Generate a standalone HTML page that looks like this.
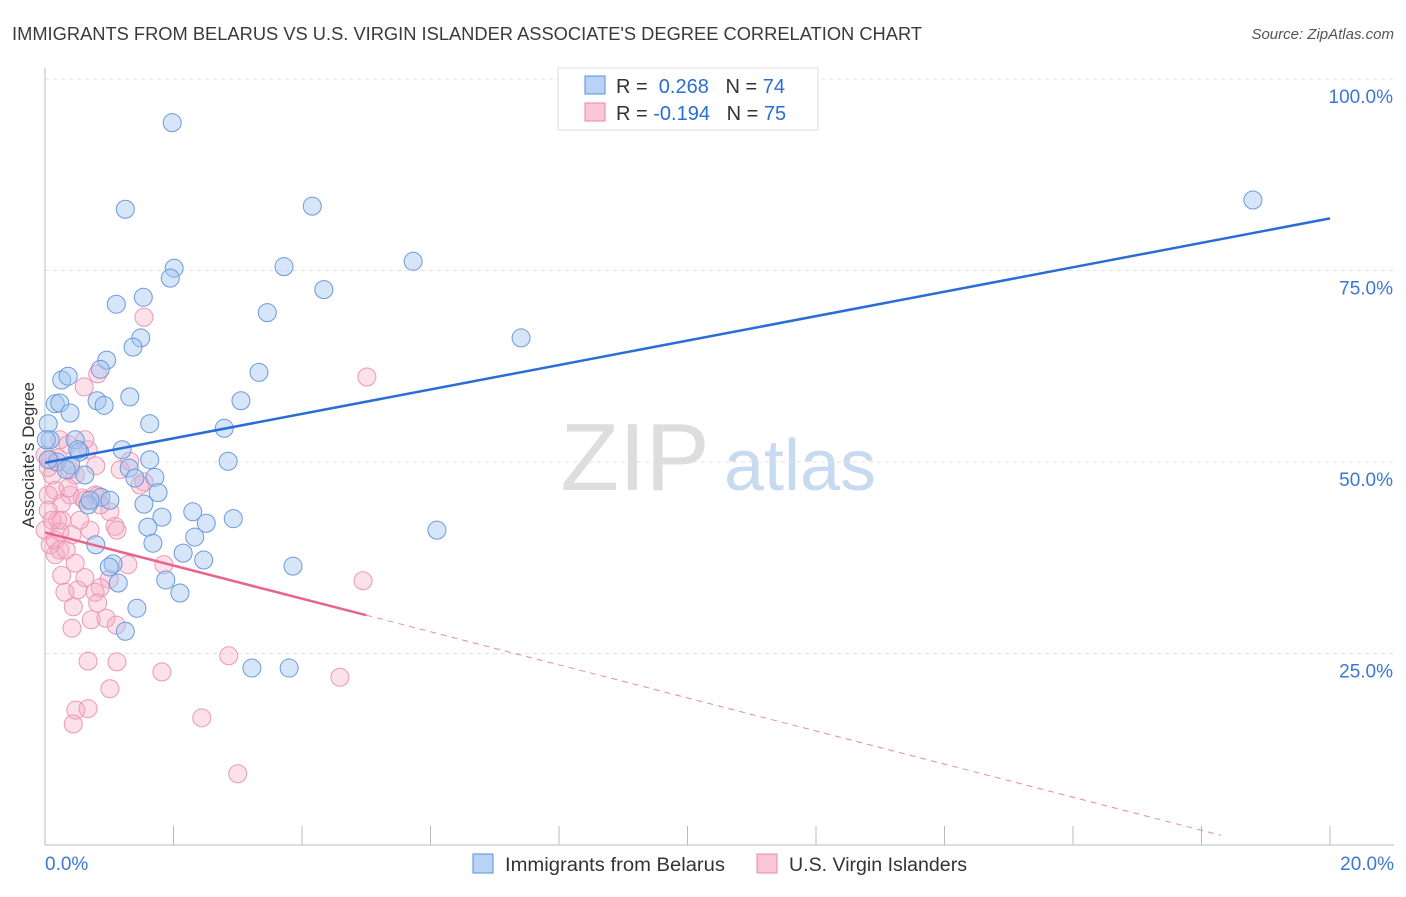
<!DOCTYPE html>
<html><head><meta charset="utf-8"><style>
body{margin:0;background:#fff;font-family:"Liberation Sans",sans-serif;}
svg text{font-family:"Liberation Sans",sans-serif;}
</style></head><body>
<svg id="chart" width="1406" height="892" xmlns="http://www.w3.org/2000/svg">
<text x="12" y="40" font-size="18" fill="#3a3a3a" textLength="910" lengthAdjust="spacingAndGlyphs">IMMIGRANTS FROM BELARUS VS U.S. VIRGIN ISLANDER ASSOCIATE'S DEGREE CORRELATION CHART</text>
<text x="1394" y="39" font-size="15" fill="#555" text-anchor="end" font-style="italic">Source: ZipAtlas.com</text>
<g>
<text x="635" y="490" font-size="96" fill="#ddd" text-anchor="middle" font-family="Liberation Serif">ZIP</text>
<text x="800" y="490" font-size="72" fill="#c8daf0" text-anchor="middle">atlas</text>
</g>
<g id="grid"></g>
<g id="axes"></g>
<g id="marks"></g>
<text transform="translate(34,455) rotate(-90)" font-size="17" fill="#333" text-anchor="middle">Associate's Degree</text>
<g>
<rect x="558" y="68" width="260" height="62" fill="#fff" stroke="#ddd"/>
<rect x="585" y="76" width="20" height="18" fill="#b8d3f5" stroke="#5b8fd9"/>
<rect x="585" y="103" width="20" height="18" fill="#f9c6d6" stroke="#e88aa8"/>
<text x="616" y="93" font-size="20" fill="#333">R = <tspan fill="#2a6dd4">&#160;0.268</tspan>&#160;&#160;&#160;N = <tspan fill="#2a6dd4">74</tspan></text>
<text x="616" y="120" font-size="20" fill="#333">R = <tspan fill="#2a6dd4">-0.194</tspan>&#160;&#160;&#160;N = <tspan fill="#2a6dd4">75</tspan></text>
</g>
<g>
<rect x="473" y="854" width="20" height="19" fill="#b8d3f5" stroke="#5b8fd9"/>
<text x="505" y="871" font-size="19" fill="#333" textLength="220" lengthAdjust="spacingAndGlyphs">Immigrants from Belarus</text>
<rect x="757" y="854" width="20" height="19" fill="#f9c6d6" stroke="#e88aa8"/>
<text x="789" y="871" font-size="19" fill="#333" textLength="178" lengthAdjust="spacingAndGlyphs">U.S. Virgin Islanders</text>
</g>
</svg>
<script>
const blueX=[1.98,1.25,4.16,2.01,1.95,3.72,5.73,4.34,1.11,1.53,3.46,1.49,1.37,0.96,0.86,3.33,0.26,0.36,1.32,0.81,0.92,3.05,0.16,0.23,0.39,1.63,0.05,2.79,0.08,0.47,1.20,0.54,0.19,0.40,2.85,1.31,0.62,1.71,1.40,1.76,0.87,1.01,1.54,0.67,2.30,1.82,2.93,2.51,6.10,1.60,2.33,1.68,2.15,0.79,2.47,1.06,1.00,3.86,1.88,1.14,2.10,1.43,1.25,3.22,3.80,18.80,7.41,0.05,0.02,0.70,0.51,0.33,1.63];
const blueY=[94.3,83.0,83.4,75.3,74.0,75.5,76.2,72.5,70.6,71.5,69.5,66.2,65.0,63.3,62.1,61.7,60.7,61.2,58.5,58.0,57.4,58.0,57.6,57.7,56.4,55.0,55.0,54.4,52.9,52.9,51.6,51.3,50.0,49.6,50.1,49.2,48.3,48.0,47.9,46.0,45.4,45.0,44.5,44.4,43.5,42.8,42.6,42.0,41.1,41.5,40.2,39.4,38.1,39.2,37.2,36.7,36.3,36.4,34.6,34.2,32.9,30.9,27.9,23.1,23.1,84.2,66.2,50.3,52.9,45.0,51.6,49.0,50.3];
const pinkX=[1.54,5.01,0.82,0.61,0.36,0.67,0.79,1.32,1.54,0.11,0.16,0.39,0.58,0.78,0.26,0.05,0.20,0.00,0.08,0.23,0.16,0.42,0.70,1.09,1.12,1.01,0.82,0.62,0.47,0.36,0.20,0.05,0.47,0.26,0.62,1.00,1.29,1.85,0.86,0.51,0.78,0.31,0.82,0.44,0.42,0.72,0.95,1.11,4.95,0.67,1.12,2.86,1.82,4.59,1.01,0.48,0.67,0.44,2.44,3.00,0.16,0.23,0.05,0.11,0.26,0.54,0.86,1.17,1.48,0.39,0.23,0.00,0.08,0.62,0.33];
const pinkY=[68.9,61.1,61.5,59.8,52.3,51.6,49.5,50.1,47.4,48.3,46.3,45.7,45.3,45.7,44.6,45.7,42.4,41.1,39.2,40.9,37.9,40.5,41.1,41.6,41.1,43.5,45.6,45.0,48.3,46.6,50.5,49.3,36.8,35.2,34.9,34.7,36.6,36.6,33.6,33.3,33.0,33.0,31.6,31.1,28.3,29.4,29.6,28.7,34.5,24.0,23.9,24.7,22.6,21.9,20.4,17.6,17.8,15.8,16.6,9.3,39.8,38.5,43.7,42.4,42.4,42.4,44.4,49.0,47.0,49.0,52.9,50.9,50.3,52.9,38.5];
const blueTrend=[49.9,81.8]; // y at x=0 and x=20
const pinkTrend=[40.8,-2.16]; // intercept, slope
const yTicks=[25,50,75,100];
const xTickLabels=["0.0%","20.0%"];

const NS="http://www.w3.org/2000/svg";
const X=v=>45+v/20*1285;
const Y=v=>845-v/100*766;
function mk(tag,attrs,parent){const e=document.createElementNS(NS,tag);for(const k in attrs)e.setAttribute(k,attrs[k]);parent.appendChild(e);return e;}
const grid=document.getElementById('grid'),axes=document.getElementById('axes'),marks=document.getElementById('marks');
yTicks.forEach(t=>{
  const l=mk('line',{x1:45,x2:1394,y1:Y(t),y2:Y(t),stroke:'#e2e2e2','stroke-dasharray':'4,4'},grid);
  
  
  const tx=mk('text',{x:1393,y:Y(t)+24,'font-size':19,fill:'#3a78d4','text-anchor':'end'},axes);
  tx.textContent=t.toFixed(1)+'%';
  
  
});
const ax=mk('line',{x1:45,x2:1394,y1:845,y2:845,stroke:'#bbb'},axes);


const ay=mk('line',{x1:45,x2:45,y1:68,y2:845,stroke:'#bbb'},axes);


for(let i=1;i<=10;i++){
  const t=mk('line',{x1:X(i*2),x2:X(i*2),y1:826,y2:845,stroke:'#bbb'},axes);
  
  
}
[[0,'start',45],[20,'end',1394]].forEach((d,i)=>{
  const t=mk('text',{x:d[2],y:870,'font-size':19,fill:'#3a78d4','text-anchor':d[1]},axes);
  t.textContent=xTickLabels[i];
  
  
});
pinkX.forEach((x,i)=>{
  const c=mk('circle',{cx:X(x),cy:Y(pinkY[i]),r:9,fill:'rgba(245,170,195,0.35)',stroke:'#ec98b3','stroke-width':1},marks);
  
  
});
blueX.forEach((x,i)=>{
  const c=mk('circle',{cx:X(x),cy:Y(blueY[i]),r:9,fill:'rgba(165,198,240,0.45)',stroke:'#6a9ade','stroke-width':1},marks);
  
  
});
const bl=mk('line',{x1:X(0),y1:Y(blueTrend[0]),x2:X(20),y2:Y(blueTrend[1]),stroke:'#2a6dd4','stroke-width':2.5},marks);


const pf=x=>pinkTrend[0]+pinkTrend[1]*x;
const ps=mk('line',{x1:X(0),y1:Y(pf(0)),x2:X(5),y2:Y(pf(5)),stroke:'#e8648e','stroke-width':2.5},marks);


const pd=mk('line',{x1:X(5),y1:Y(pf(5)),x2:X(18.3),y2:Y(pf(18.3)),stroke:'#e88aa8','stroke-width':1,'stroke-dasharray':'6,5'},marks);


</script>
</body></html>
